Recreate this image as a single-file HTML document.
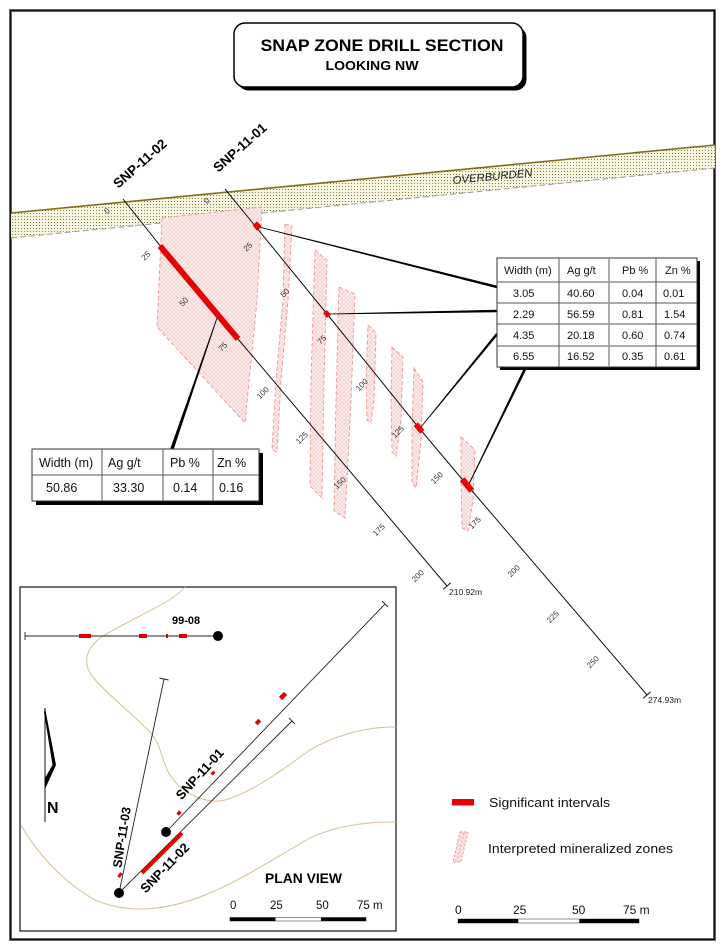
<!DOCTYPE html>
<html><head><meta charset="utf-8"><style>
html,body{margin:0;padding:0;background:#fff;}
svg{display:block;}
text{font-family:"Liberation Sans",Arial,sans-serif;}
</style></head><body>
<svg width="725" height="951" viewBox="0 0 725 951" xmlns="http://www.w3.org/2000/svg">
<defs>
<pattern id="dots" width="3" height="3" patternUnits="userSpaceOnUse"><rect width="3" height="3" fill="#f6f4e2"/><rect width="1" height="1" fill="#858238"/></pattern>
<pattern id="hatch" width="4" height="4" patternUnits="userSpaceOnUse"><rect width="4" height="4" fill="#fdf1f1"/><path d="M0 0L4 4M4 0L0 4" stroke="#f2c4c4" stroke-width="0.6"/></pattern>
</defs>
<rect width="725" height="951" fill="#fff"/>
<!-- outer frame -->
<rect x="10.5" y="10.5" width="704" height="929" fill="none" stroke="#888" stroke-width="3"/>
<rect x="10.5" y="10.5" width="704" height="929" fill="none" stroke="#111" stroke-width="1.6"/>

<!-- title -->
<rect x="237.5" y="26.5" width="289" height="64" rx="11" fill="#000"/>
<rect x="234" y="23" width="289" height="64" rx="11" fill="#fff" stroke="#000" stroke-width="1.5"/>
<text x="382" y="51" font-size="17" font-weight="bold" text-anchor="middle" textLength="243" lengthAdjust="spacingAndGlyphs">SNAP ZONE DRILL SECTION</text>
<text x="372" y="70" font-size="12.5" font-weight="bold" text-anchor="middle" textLength="93" lengthAdjust="spacingAndGlyphs">LOOKING NW</text>

<!-- overburden -->
<polygon points="11,213 715,145 715,168 11,238" fill="url(#dots)"/>
<line x1="11" y1="238" x2="715" y2="168" stroke="#9a9a9a" stroke-width="1" stroke-dasharray="6,3"/>
<line x1="11" y1="213" x2="715" y2="145" stroke="#7f6c1c" stroke-width="1.6"/>
<text x="453" y="184" font-size="11" font-style="italic" fill="#222" transform="rotate(-5.5 453 184)" textLength="80" lengthAdjust="spacingAndGlyphs">OVERBURDEN</text>

<!-- mineralized zones -->
<g fill="url(#hatch)" stroke="#f39494" stroke-width="0.9" stroke-dasharray="4,2.5">
<polygon points="162,218 262,207 257,300 245,423 157,327"/>
<polygon points="285,224 292,226 288,300 281,380 277,452 272,450 276,380 283,300"/>
<polygon points="315,250 327,260 324,380 322,498 310,486 311,380"/>
<polygon points="339,287 355,294 351,400 345,518 334,511 336,400"/>
<polygon points="368,325 376,333 374,400 371,423 367,420 366,380"/>
<polygon points="392,347 403,357 401,420 396,456 392,452 391,400"/>
<polygon points="414,368 423,382 421,440 416,488 412,483 412,430"/>
<polygon points="461,437 475,450 473,500 468,531 462,528 461,480"/>
</g>

<!-- drill holes section -->
<polyline points="123,199 162,248 238,339 447,586" fill="none" stroke="#111" stroke-width="1"/>
<polyline points="225,189 327,314 419,428 467,485 647,695" fill="none" stroke="#111" stroke-width="1"/>
<line x1="443.2" y1="589.2" x2="450.8" y2="582.8" stroke="#111" stroke-width="1"/>
<line x1="643.2" y1="698.2" x2="650.8" y2="691.8" stroke="#111" stroke-width="1"/>
<text x="449" y="595" font-size="8.5" fill="#222">210.92m</text>
<text x="648" y="703" font-size="8.5" fill="#222">274.93m</text>

<!-- hole labels -->
<text x="143" y="167" font-size="13.5" font-weight="bold" text-anchor="middle" transform="rotate(-41.6 143 167)">SNP-11-02</text>
<text x="243" y="151" font-size="13.5" font-weight="bold" text-anchor="middle" transform="rotate(-41.6 243 151)">SNP-11-01</text>

<!-- depth labels -->
<g font-size="8" fill="#333" text-anchor="middle" dominant-baseline="central">
<text x="107" y="211" transform="rotate(-45 107 211)">0</text>
<text x="146" y="256" transform="rotate(-45 146 256)">25</text>
<text x="184" y="302" transform="rotate(-45 184 302)">50</text>
<text x="223" y="347" transform="rotate(-45 223 347)">75</text>
<text x="263" y="393" transform="rotate(-45 263 393)">100</text>
<text x="302" y="438" transform="rotate(-45 302 438)">125</text>
<text x="340" y="483" transform="rotate(-45 340 483)">150</text>
<text x="379" y="530" transform="rotate(-45 379 530)">175</text>
<text x="418" y="576" transform="rotate(-45 418 576)">200</text>
<text x="207" y="201" transform="rotate(-45 207 201)">0</text>
<text x="248" y="247" transform="rotate(-45 248 247)">25</text>
<text x="285" y="293" transform="rotate(-45 285 293)">50</text>
<text x="322" y="340" transform="rotate(-45 322 340)">75</text>
<text x="362" y="385" transform="rotate(-45 362 385)">100</text>
<text x="398" y="432" transform="rotate(-45 398 432)">125</text>
<text x="437" y="478" transform="rotate(-45 437 478)">150</text>
<text x="475" y="523" transform="rotate(-45 475 523)">175</text>
<text x="514" y="571" transform="rotate(-45 514 571)">200</text>
<text x="553" y="617" transform="rotate(-45 553 617)">225</text>
<text x="593" y="662" transform="rotate(-45 593 662)">250</text>
</g>

<!-- leaders -->
<g fill="#000">
<polygon points="258.9,227.4 496.7,288.3 497.3,285.7 259.1,226.6"/>
<polygon points="329,314.4 497,312.3 497,309.7 329,313.6"/>
<polygon points="421.3,427.3 498,334.8 496,333.2 420.7,426.7"/>
<polygon points="469.4,484.2 527.2,367.6 524.8,366.4 468.6,483.8"/>
<polygon points="217.4,318.1 173.6,449.6 170.4,448.4 216.6,317.9"/>
</g>

<!-- red intervals section -->
<g stroke="#e60000" stroke-linecap="butt">
<line x1="160" y1="246" x2="238" y2="339" stroke-width="6"/>
<line x1="254.8" y1="223.3" x2="259.2" y2="228.7" stroke-width="6"/>
<line x1="325.1" y1="311.7" x2="328.9" y2="316.3" stroke-width="5"/>
<line x1="415.8" y1="424.2" x2="422.2" y2="431.8" stroke-width="5.5"/>
<line x1="462.2" y1="479.2" x2="471.8" y2="490.8" stroke-width="6"/>
</g>

<!-- right table -->
<rect x="500" y="261" width="200" height="109" fill="#000"/>
<rect x="497" y="258" width="200" height="109" fill="#fff" stroke="#333" stroke-width="1"/>
<g stroke="#555" stroke-width="1">
<line x1="559" y1="258" x2="559" y2="367"/>
<line x1="656" y1="258" x2="656" y2="367"/>
<line x1="497" y1="282" x2="697" y2="282"/>
<line x1="497" y1="303" x2="697" y2="303"/>
<line x1="497" y1="324" x2="697" y2="324"/>
<line x1="497" y1="346" x2="697" y2="346"/>
</g>
<line x1="609" y1="258" x2="609" y2="367" stroke="#999" stroke-width="1.6"/>
<g font-size="11" fill="#111">
<text x="504" y="274">Width (m)</text><text x="567" y="274">Ag g/t</text><text x="622" y="274">Pb %</text><text x="665" y="274">Zn %</text>
<text x="513" y="297">3.05</text><text x="567" y="297">40.60</text><text x="622" y="297">0.04</text><text x="663" y="297">0.01</text>
<text x="513" y="318">2.29</text><text x="567" y="318">56.59</text><text x="622" y="318">0.81</text><text x="664" y="318">1.54</text>
<text x="513" y="339">4.35</text><text x="567" y="339">20.18</text><text x="622" y="339">0.60</text><text x="664" y="339">0.74</text>
<text x="513" y="360">6.55</text><text x="567" y="360">16.52</text><text x="622" y="360">0.35</text><text x="664" y="360">0.61</text>
</g>

<!-- lower table -->
<rect x="36" y="453" width="227" height="52" fill="#000"/>
<rect x="32" y="449" width="227" height="52" fill="#fff" stroke="#333" stroke-width="1"/>
<g stroke="#555" stroke-width="1">
<line x1="102" y1="449" x2="102" y2="501"/>
<line x1="163" y1="449" x2="163" y2="501"/>
<line x1="213" y1="449" x2="213" y2="501"/>
<line x1="32" y1="475" x2="259" y2="475"/>
</g>
<g font-size="12.5" fill="#111">
<text x="39" y="467">Width (m)</text><text x="108" y="467">Ag g/t</text><text x="170" y="467">Pb %</text><text x="217" y="467">Zn %</text>
<text x="46" y="492">50.86</text><text x="113" y="492">33.30</text><text x="173" y="492">0.14</text><text x="219" y="492">0.16</text>
</g>

<!-- plan view -->
<rect x="20" y="587" width="376" height="344" fill="#fff" stroke="#222" stroke-width="1.3"/>
<g fill="none" stroke="#d6c08e" stroke-width="1">
<path d="M185,587 C175,600 140,615 110,632 C85,645 82,662 92,676 C105,692 130,712 150,732 C162,745 162,765 172,778 C182,792 205,805 225,800 C250,793 280,772 310,750 C330,738 360,727 396,727"/>
<path d="M21,825 C35,850 60,880 95,900 C130,915 170,910 210,893 C245,878 280,855 310,838 C335,826 365,822 396,822"/>
</g>
<g stroke="#222" stroke-width="0.9" fill="none">
<line x1="25" y1="636" x2="218" y2="636"/>
<line x1="25" y1="632" x2="25" y2="640"/>
<line x1="119" y1="893" x2="164" y2="679"/>
<line x1="159.5" y1="678" x2="168.5" y2="680"/>
<line x1="166" y1="832" x2="385" y2="604"/>
<line x1="382" y1="601" x2="388" y2="607"/>
<line x1="119" y1="893" x2="292" y2="721"/>
<line x1="289" y1="718" x2="295" y2="724"/>
</g>
<g fill="#e60000">
<rect x="79" y="634" width="12" height="4"/>
<rect x="139" y="634" width="8" height="4"/>
<rect x="166" y="634" width="2" height="4"/>
<rect x="179" y="634" width="8" height="4"/>
</g>
<g stroke="#e60000">
<line x1="118.5" y1="877" x2="121.5" y2="873" stroke-width="3"/>
<line x1="177.6" y1="814.6" x2="180.4" y2="811.6" stroke-width="3.5"/>
<line x1="211.6" y1="774.5" x2="214.4" y2="771.5" stroke-width="3"/>
<line x1="256.2" y1="723.9" x2="259.8" y2="720.1" stroke-width="4"/>
<line x1="280.5" y1="698.6" x2="285.5" y2="693.4" stroke-width="4.5"/>
<line x1="142" y1="873" x2="182" y2="833" stroke-width="4"/>
</g>
<circle cx="218" cy="636" r="5" fill="#000"/>
<circle cx="166" cy="832" r="5" fill="#000"/>
<circle cx="119" cy="893" r="5" fill="#000"/>
<text x="172" y="624" font-size="11" font-weight="bold">99-08</text>
<text x="203" y="777" font-size="13" font-weight="bold" text-anchor="middle" transform="rotate(-47.5 203 777)">SNP-11-01</text>
<text x="168" y="871" font-size="13" font-weight="bold" text-anchor="middle" transform="rotate(-45.6 168 871)">SNP-11-02</text>
<text x="126" y="838" font-size="12.5" font-weight="bold" text-anchor="middle" transform="rotate(-81 126 838)">SNP-11-03</text>
<!-- north arrow -->
<line x1="45" y1="708" x2="45" y2="822" stroke="#111" stroke-width="1"/>
<polygon points="45,708 56,765 45,789 45,778 52.5,765 44,712" fill="#000"/>
<text x="47" y="813" font-size="16" font-weight="bold">N</text>
<text x="265" y="883" font-size="14" font-weight="bold" textLength="77" lengthAdjust="spacingAndGlyphs">PLAN VIEW</text>
<!-- plan scale -->
<g font-size="11.5" fill="#111">
<text x="230" y="909">0</text><text x="270" y="909">25</text><text x="316" y="909">50</text><text x="357" y="909">75 m</text>
</g>
<rect x="230" y="917.5" width="136" height="3.5" fill="#fff" stroke="#777" stroke-width="0.8"/>
<rect x="230" y="917.5" width="45.5" height="3.5" fill="#000"/>
<rect x="321" y="917.5" width="45" height="3.5" fill="#000"/>

<!-- legend -->
<rect x="452" y="799" width="22" height="6.5" fill="#e60000"/>
<text x="489" y="807" font-size="13" fill="#111" textLength="121" lengthAdjust="spacingAndGlyphs">Significant intervals</text>
<polygon points="460,832 468,832 461,862 453,862" fill="url(#hatch)" stroke="#f39494" stroke-width="0.9" stroke-dasharray="2.5,1.5"/>
<line x1="464" y1="833" x2="457" y2="861" stroke="#f39494" stroke-width="0.8" stroke-dasharray="2,2"/>
<text x="488" y="853" font-size="13" fill="#111" textLength="185" lengthAdjust="spacingAndGlyphs">Interpreted mineralized zones</text>

<!-- main scale -->
<g font-size="12" fill="#111">
<text x="455" y="914">0</text><text x="513" y="914">25</text><text x="572" y="914">50</text><text x="623" y="914">75 m</text>
</g>
<rect x="458" y="919" width="181" height="4" fill="#fff" stroke="#777" stroke-width="0.8"/>
<rect x="458" y="919" width="60.3" height="4" fill="#000"/>
<rect x="579.3" y="919" width="59.7" height="4" fill="#000"/>
</svg>
</body></html>
